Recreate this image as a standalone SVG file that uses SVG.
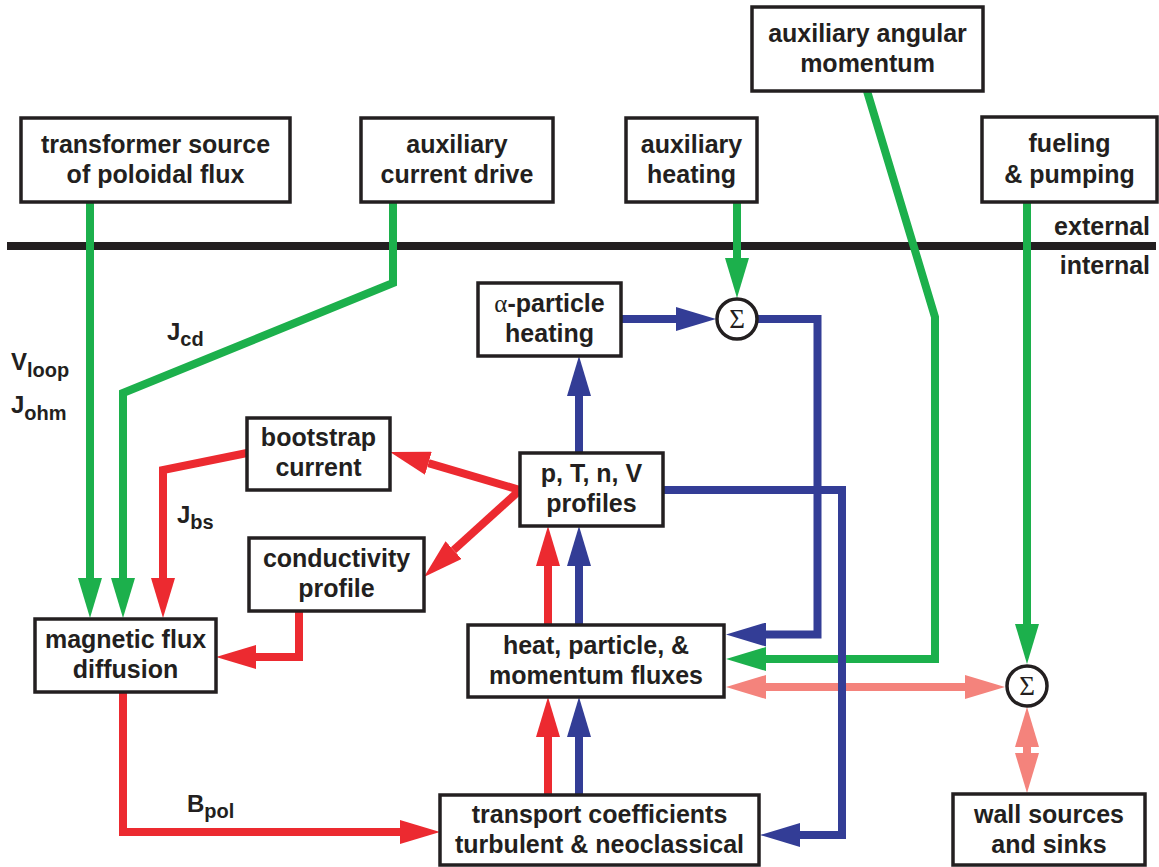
<svg xmlns="http://www.w3.org/2000/svg" width="1159" height="867" viewBox="0 0 1159 867">
<defs>
<style>
.box{fill:#fff;stroke:#231f20;stroke-width:3.5}
.t{font-family:"Liberation Sans",Arial,Helvetica,sans-serif;font-weight:bold;font-size:25px;fill:#231f20;text-anchor:middle}
.lbl{font-family:"Liberation Sans",Arial,Helvetica,sans-serif;font-weight:bold;font-size:24px;fill:#231f20}
.sub{font-size:20px}
.side{font-family:"Liberation Sans",Arial,Helvetica,sans-serif;font-weight:bold;font-size:25px;fill:#231f20;text-anchor:end}
.sig{font-family:"Liberation Serif","Times New Roman",serif;font-size:27px;fill:#231f20;text-anchor:middle}
.circ{fill:#fff;stroke:#231f20;stroke-width:3.5}
.c{fill:none;stroke-width:8;stroke-linejoin:miter;stroke-linecap:butt}
.g{stroke:#1cb04c}
.b{stroke:#333d96}
.r{stroke:#ec2a30}
.s{stroke:#f4837c}
</style>
<marker id="aG" viewBox="0 -12 40 24" refX="0" refY="0" markerWidth="40" markerHeight="24" markerUnits="userSpaceOnUse" orient="auto-start-reverse"><path d="M0,-12 L40,0 L0,12 Z" fill="#1cb04c"/></marker>
<marker id="aB" viewBox="0 -12 40 24" refX="0" refY="0" markerWidth="40" markerHeight="24" markerUnits="userSpaceOnUse" orient="auto-start-reverse"><path d="M0,-12 L40,0 L0,12 Z" fill="#333d96"/></marker>
<marker id="aR" viewBox="0 -12 40 24" refX="0" refY="0" markerWidth="40" markerHeight="24" markerUnits="userSpaceOnUse" orient="auto-start-reverse"><path d="M0,-12 L40,0 L0,12 Z" fill="#ec2a30"/></marker>
<marker id="aS" viewBox="0 -12 40 24" refX="0" refY="0" markerWidth="40" markerHeight="24" markerUnits="userSpaceOnUse" orient="auto-start-reverse"><path d="M0,-12 L40,0 L0,12 Z" fill="#f4837c"/></marker>
</defs>
<rect width="1159" height="867" fill="#fff"/>

<g id="boundary">
<path d="M7,246 H1156" stroke="#231f20" stroke-width="8"/>
<text class="side" x="1150" y="235">external</text>
<text class="side" x="1150" y="274">internal</text>
</g>

<g id="connectors">
<!-- green -->
<path class="c g" d="M90,202 V578" marker-end="url(#aG)"/>
<path class="c g" d="M393,202 V283 L123,393 V578" marker-end="url(#aG)"/>
<path class="c g" d="M737,202 V258" marker-end="url(#aG)"/>
<path class="c g" d="M867,91 L935,317 V659 H766" marker-end="url(#aG)"/>
<path class="c g" d="M1027,202 V624" marker-end="url(#aG)"/>
<!-- salmon -->
<path class="c s" d="M766,687 H965" marker-start="url(#aS)" marker-end="url(#aS)"/>
<path class="c s" d="M1027,747 V753" marker-start="url(#aS)" marker-end="url(#aS)"/>
<!-- red -->
<path class="c r" d="M520,490 L428.4,463.2" marker-end="url(#aR)"/>
<path class="c r" d="M520,490 L453.6,550.1" marker-end="url(#aR)"/>
<path class="c r" d="M247,453 L163,470 V578" marker-end="url(#aR)"/>
<path class="c r" d="M299,611 V657 H256" marker-end="url(#aR)"/>
<path class="c r" d="M123,692 V832 H400" marker-end="url(#aR)"/>
<path class="c r" d="M548,795 V737" marker-end="url(#aR)"/>
<path class="c r" d="M548,625 V566" marker-end="url(#aR)"/>
<!-- blue -->
<path class="c b" d="M579,795 V737" marker-end="url(#aB)"/>
<path class="c b" d="M579,625 V566" marker-end="url(#aB)"/>
<path class="c b" d="M579,453 V396" marker-end="url(#aB)"/>
<path class="c b" d="M621,319 H676" marker-end="url(#aB)"/>
<path class="c b" d="M758,319 H817.5 V634.5 H766" marker-end="url(#aB)"/>
<path class="c b" d="M663,490 H842 V835 H800" marker-end="url(#aB)"/>
</g>

<g id="transformer">
<rect class="box" x="21" y="118" width="269" height="84"/>
<text class="t" x="155.5" y="153">transformer source</text>
<text class="t" x="155.5" y="183">of poloidal flux</text>
</g>
<g id="aux-current-drive">
<rect class="box" x="361" y="118" width="192" height="84"/>
<text class="t" x="457" y="153">auxiliary</text>
<text class="t" x="457" y="183">current drive</text>
</g>
<g id="aux-heating">
<rect class="box" x="626" y="118" width="131" height="84"/>
<text class="t" x="691.5" y="153">auxiliary</text>
<text class="t" x="691.5" y="183">heating</text>
</g>
<g id="aux-angular-momentum">
<rect class="box" x="752" y="7" width="231" height="84"/>
<text class="t" x="867.5" y="42">auxiliary angular</text>
<text class="t" x="867.5" y="72">momentum</text>
</g>
<g id="fueling">
<rect class="box" x="982" y="117" width="175" height="85"/>
<text class="t" x="1069.5" y="152">fueling</text>
<text class="t" x="1069.5" y="183">&amp; pumping</text>
</g>
<g id="alpha-heating">
<rect class="box" x="478" y="283" width="143" height="73"/>
<text class="t" x="549.5" y="312"><tspan font-family="'Liberation Serif','Times New Roman',serif" font-weight="normal">α</tspan>-particle</text>
<text class="t" x="549.5" y="342">heating</text>
</g>
<g id="sum1">
<circle class="circ" cx="737" cy="319" r="20"/>
<text class="sig" x="737" y="328">Σ</text>
</g>
<g id="profiles">
<rect class="box" x="520" y="453" width="143" height="73"/>
<text class="t" x="591.5" y="482">p, T, n, V</text>
<text class="t" x="591.5" y="512">profiles</text>
</g>
<g id="bootstrap">
<rect class="box" x="247" y="418" width="143" height="72"/>
<text class="t" x="318.5" y="446">bootstrap</text>
<text class="t" x="318.5" y="476">current</text>
</g>
<g id="conductivity">
<rect class="box" x="249" y="538" width="175" height="73"/>
<text class="t" x="336.5" y="567">conductivity</text>
<text class="t" x="336.5" y="597">profile</text>
</g>
<g id="magnetic-flux">
<rect class="box" x="35" y="619" width="181" height="73"/>
<text class="t" x="125.5" y="648">magnetic flux</text>
<text class="t" x="125.5" y="678">diffusion</text>
</g>
<g id="fluxes">
<rect class="box" x="468" y="625" width="256" height="72"/>
<text class="t" x="596" y="654">heat, particle, &amp;</text>
<text class="t" x="596" y="684">momentum fluxes</text>
</g>
<g id="transport">
<rect class="box" x="440" y="795" width="319" height="70"/>
<text class="t" x="599.5" y="823">transport coefficients</text>
<text class="t" x="599.5" y="853">turbulent &amp; neoclassical</text>
</g>
<g id="sum2">
<circle class="circ" cx="1027" cy="686" r="20"/>
<text class="sig" x="1027" y="695">Σ</text>
</g>
<g id="wall">
<rect class="box" x="953" y="794" width="192" height="71"/>
<text class="t" x="1049" y="823">wall sources</text>
<text class="t" x="1049" y="853">and sinks</text>
</g>

<g id="labels">
<text class="lbl" x="11" y="370">V<tspan class="sub" dy="7">loop</tspan></text>
<text class="lbl" x="11" y="413">J<tspan class="sub" dy="7">ohm</tspan></text>
<text class="lbl" x="167" y="340">J<tspan class="sub" dy="6">cd</tspan></text>
<text class="lbl" x="177" y="523">J<tspan class="sub" dy="6">bs</tspan></text>
<text class="lbl" x="187" y="812">B<tspan class="sub" dy="6">pol</tspan></text>
</g>
</svg>
